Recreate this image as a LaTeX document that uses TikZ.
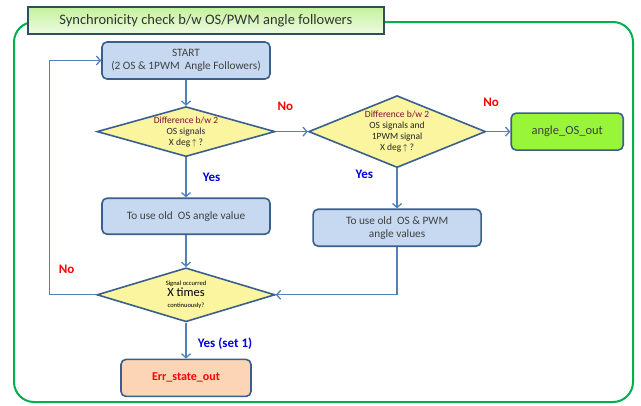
\documentclass[tikz,border=0pt]{standalone}
\usepackage{fontspec}
\setmainfont{Carlito}
\usetikzlibrary{positioning,arrows.meta,shapes.geometric}
\definecolor{boxblue}{HTML}{C6D9F1}
\definecolor{edgeblue}{HTML}{3B5F8C}
\definecolor{arrowblue}{HTML}{4F81BD}
\definecolor{diayellow}{HTML}{FAF59E}
\definecolor{framegreen}{HTML}{00B050}
\definecolor{outgreen}{HTML}{99F53A}
\definecolor{errpeach}{HTML}{FBD5B5}
\definecolor{titletop}{HTML}{C4F29A}
\definecolor{titlebot}{HTML}{EEFBE3}
\definecolor{titleedge}{HTML}{2F4F5F}
\definecolor{darkred}{HTML}{7A1030}

\begin{document}
\begin{tikzpicture}[x=1pt,y=-1pt,node distance=26pt,
    every node/.style={font=\fontsize{11.3}{13}\selectfont,text=black!75},
    procbox/.style={draw=edgeblue,line width=1.6pt,rounded corners=5pt,fill=boxblue,minimum width=168pt,minimum height=37pt,align=center,inner sep=2pt},
    decision/.style={diamond,draw=edgeblue,line width=1.6pt,fill=diayellow,inner sep=0pt,align=center,text=black!85,font=\fontsize{9.5}{11}\selectfont},
    arr/.style={draw=arrowblue,line width=1.3pt,-{Straight Barb[length=4pt,width=9pt]}},
    nolbl/.style={text=red,font=\bfseries\fontsize{13}{15}\selectfont},
    yeslbl/.style={text=blue!85!black,font=\bfseries\fontsize{13}{15}\selectfont}]
    \useasboundingbox (0,0) rectangle (641,405);
    \draw[framegreen,line width=2pt,rounded corners=20pt] (14,22) rectangle (633,402);
    \node[draw=titleedge,line width=1.6pt,top color=titletop,bottom color=titlebot,minimum width=356pt,minimum height=27pt,anchor=north west,font=\fontsize{14.5}{16}\selectfont,text=black!80] (title) at (27,6) {Synchronicity check b/w OS/PWM angle followers};
    \node[procbox] (start) at (186,60.5) {START\\(2 OS \& 1PWM~~Angle Followers)};
    \node[decision,below=of start,minimum width=178pt,minimum height=50pt,aspect=3.56] (d1) {{\color{darkred}Difference b/w 2}\\OS signals\\X deg\,$\uparrow$ ?};
    \node[procbox,below=40pt of d1,minimum height=36pt] (oldos) {To use old~~OS angle value};
    \node[decision,below=32pt of oldos,minimum width=178pt,minimum height=54pt,aspect=3.3,text=black] (d3) {{\fontsize{6.5}{7.5}\selectfont Signal occurred}\\{\fontsize{12.5}{13}\selectfont X times}\\{\fontsize{6.5}{7.5}\selectfont continuously?}};
    \node[procbox,below=36pt of d3,minimum width=130pt,fill=errpeach,text=red,font=\bfseries\fontsize{12}{14}\selectfont] (err) {Err\_state\_out};
    \node[decision,right=32pt of d1,minimum width=177pt,minimum height=72pt,aspect=2.46] (d2) {{\color{darkred}Difference b/w 2}\\OS signals and\\1PWM signal\\X deg\,$\uparrow$ ?};
    \node[procbox,right=24pt of d2,minimum width=112pt,fill=outgreen,font=\fontsize{12.5}{14}\selectfont] (out) {angle\_OS\_out};
    \node[procbox,below=40pt of d2] (oldpwm) {To use old~~OS \& PWM\\angle values};
    \draw[arr] (start) -- (d1);
    \draw[arr] (d1) -- node[yeslbl,right=13pt]{Yes} (oldos);
    \draw[arr] (oldos) -- (d3);
    \draw[arr] (d3) -- node[yeslbl,right=8pt,pos=.58]{Yes (set 1)} (err);
    \draw[arr] (d1) -- node[nolbl,above=17pt,pos=.3]{No} (d2);
    \draw[arr] (d2) -- node[nolbl,above=21pt,pos=.2]{No} (out);
    \draw[arr] (d2) -- node[yeslbl,left=20pt,pos=.15]{Yes} (oldpwm);
    \draw[arr] (oldpwm.south) |- (d3.east);
    \draw[arr] (d3.west) -- node[nolbl,pos=.63,above=17pt]{No} ++(-47,0) |- (start.west);
\end{tikzpicture}
\end{document}
